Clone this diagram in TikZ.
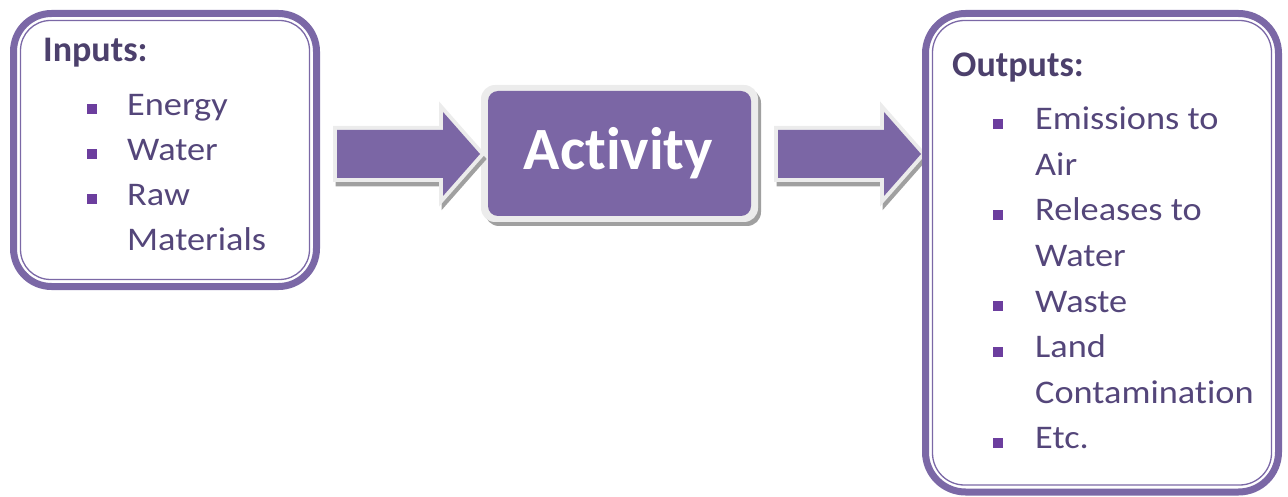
\documentclass[tikz,border=0pt]{standalone}
\usepackage{fontspec}
\setmainfont{Carlito}[Ligatures={NoCommon,NoRare,NoContextual}]
\newfontfamily\itemfont{Carlito}[FakeStretch=1.1,Ligatures={NoCommon,NoRare,NoContextual}]
% keep the t and i of a word as two separate letters
\newcommand{\tI}{t\kern0pt i}
\begin{document}
\definecolor{framepurple}{RGB}{123,104,166}
\definecolor{fillpurple}{RGB}{123,102,165}
\definecolor{textpurple}{RGB}{84,70,122}
\definecolor{headpurple}{RGB}{76,64,108}
\definecolor{dotpurple}{RGB}{108,62,158}
\definecolor{rimgray}{RGB}{236,236,236}
\definecolor{shadegray}{RGB}{160,160,160}
\begin{tikzpicture}[x=1pt,y=-1pt,
  heading/.style={anchor=base west,inner sep=0,text=headpurple,
    font=\fontsize{36}{40}\selectfont\bfseries},
  item/.style={anchor=base west,inner sep=0,text=textpurple,
    font=\itemfont\fontsize{33}{40}\selectfont},
  bulletsq/.style={fill=dotpurple,minimum size=10pt,inner sep=0,draw=none},
  framethick/.style={draw=framepurple,line width=7pt},
  framethin/.style={draw=framepurple,line width=1.3pt},
  arrowshadow/.style={draw=shadegray,fill=shadegray,line width=7pt,line join=miter},
  arrowrim/.style={draw=rimgray,fill=rimgray,line width=8pt,line join=miter},
  arrowbody/.style={fill=fillpurple,draw=none}
]
\useasboundingbox (0,0) rectangle (1288,497);

% ---- Inputs box ----
\draw[framethick,rounded corners=38pt] (13.5,13.5) rectangle (316.5,286.5);
\draw[framethin,rounded corners=30pt] (20.5,20.5) rectangle (309.5,279.5);
\node[heading] (inhead) at (43,62) {Inputs:};
\node[item] (in1) at (127,116) {Energy};
\node[item] (in2) at (127,161) {Water};
\node[item] (in3) at (127,206) {Raw};
\node[item] (in4) at (127,251) {Materials};
\node[bulletsq] (b1) at (92,109) {};
\node[bulletsq] (b2) at (92,154) {};
\node[bulletsq] (b3) at (92,199) {};

% ---- Activity box ----
\fill[shadegray,rounded corners=14pt] (485,89) rectangle (761,226);
\fill[rimgray,rounded corners=14pt] (481,85) rectangle (758,222);
\node[fill=fillpurple,rounded corners=10pt,minimum width=263pt,minimum height=125pt,
      inner sep=0] (act) at (619.5,153.5) {};
\node[anchor=base,inner sep=0,text=white,font=\fontsize{60}{60}\selectfont\bfseries]
      (acttext) at (618.5,170) {Ac\tI vity};

% ---- block arrows ----
\foreach \s in {337,778}{
  \begin{scope}[xshift=\s pt]
    \draw[arrowshadow] (2,135) -- (108,135) -- (108,117) -- (145,159) -- (108,201)
          -- (108,183) -- (2,183) -- cycle;
    \draw[arrowrim] (0,130) -- (106,130) -- (106,112) -- (143,154) -- (106,196)
          -- (106,178) -- (0,178) -- cycle;
    \fill[arrowbody] (0,130) -- (106,130) -- (106,112) -- (143,154) -- (106,196)
          -- (106,178) -- (0,178) -- cycle;
  \end{scope}
}

% ---- Outputs box ----
\draw[framethick,rounded corners=40pt] (925.5,13.5) rectangle (1278.5,492);
\draw[framethin,rounded corners=32pt] (932.5,20.5) rectangle (1271.5,485);
\node[heading] (outhead) at (952,77) {Outputs:};
\node[item] (o1a) at (1035,130) {Emissions to};
\node[item] (o1b) at (1035,175.5) {Air};
\node[item] (o2a) at (1035,221) {Releases to};
\node[item] (o2b) at (1035,266.5) {Water};
\node[item] (o3)  at (1035,312) {Waste};
\node[item] (o4a) at (1035,357.5) {Land};
\node[item] (o4b) at (1035,403) {Contamina\tI on};
\node[item] (o5)  at (1035,448.5) {Etc.};
\node[bulletsq] (c1) at (998,124) {};
\node[bulletsq] (c2) at (998,215) {};
\node[bulletsq] (c3) at (998,306) {};
\node[bulletsq] (c4) at (998,351.5) {};
\node[bulletsq] (c5) at (998,442.5) {};
\end{tikzpicture}
\end{document}
